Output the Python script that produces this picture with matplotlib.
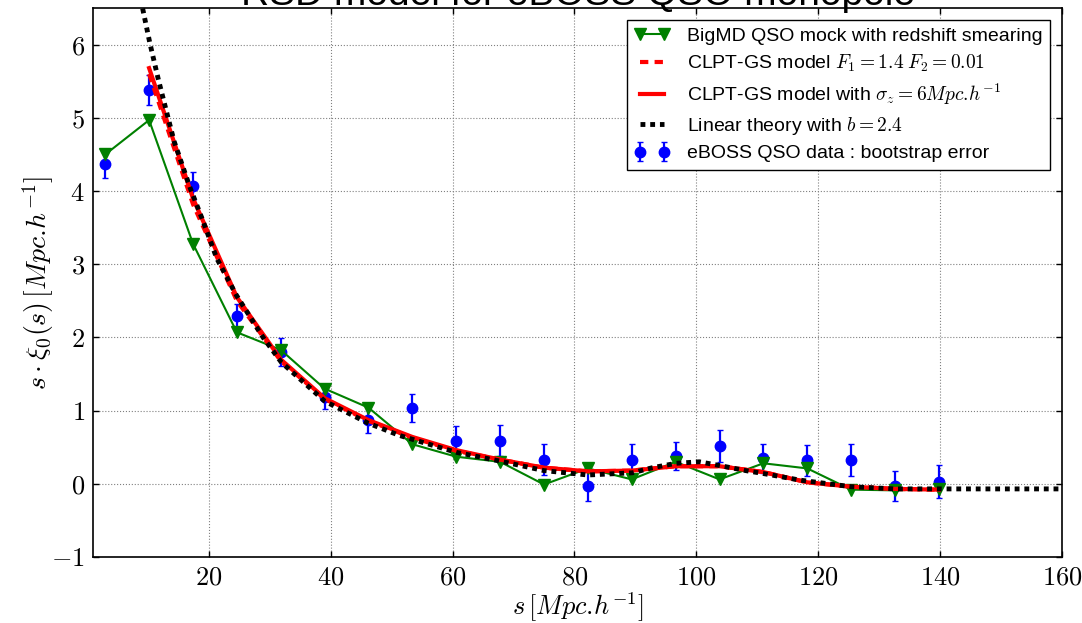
import numpy as np
import matplotlib
matplotlib.use('Agg')
import matplotlib.pyplot as plt

plt.rcParams['font.family'] = ['Liberation Sans', 'DejaVu Sans']
plt.rcParams['mathtext.fontset'] = 'cm'

# bin centres of the monopole measurement
s_bins = [3.0, 10.2, 17.4, 24.6, 31.8, 39.0, 46.2, 53.4, 60.6, 67.8,
          75.0, 82.2, 89.4, 96.6, 103.8, 111.0, 118.2, 125.4, 132.6, 139.8]

# eBOSS QSO data with bootstrap errors
xi_data = [4.37, 5.38, 4.07, 2.29, 1.80, 1.19, 0.87, 1.04, 0.58, 0.59,
           0.33, -0.03, 0.33, 0.38, 0.52, 0.35, 0.32, 0.32, -0.03, 0.03]
xi_err = [0.19, 0.20, 0.19, 0.16, 0.19, 0.17, 0.18, 0.19, 0.21, 0.21,
          0.21, 0.21, 0.22, 0.19, 0.22, 0.20, 0.21, 0.22, 0.21, 0.22]

# BigMD mock with redshift smearing
xi_mock = [4.50, 4.97, 3.28, 2.07, 1.83, 1.30, 1.04, 0.54, 0.37, 0.30,
           -0.01, 0.21, 0.06, 0.30, 0.06, 0.28, 0.21, -0.08, -0.09, -0.07]

# CLPT-GS models (from the second bin on)
s_model = s_bins[1:]
xi_clpt_f = [5.60, 3.82, 2.50, 1.68, 1.16, 0.86, 0.63, 0.45, 0.33, 0.22,
             0.17, 0.18, 0.24, 0.24, 0.16, 0.02, -0.04, -0.07, -0.08]
xi_clpt_sz = [5.68, 3.90, 2.55, 1.70, 1.17, 0.87, 0.64, 0.46, 0.33, 0.22,
              0.17, 0.18, 0.24, 0.24, 0.16, 0.02, -0.04, -0.07, -0.08]

# linear theory, b = 2.4
s_lin = [8.0, 9.1, 10.3, 11.7, 13.1, 14.3, 16.9, 19.0, 21.3, 24.5, 28.9,
         31.9, 39.0, 46.1, 51.3, 60.6, 67.8, 75.0, 82.2, 89.5, 92.8, 96.7,
         100.5, 103.8, 108.1, 111.0, 117.0, 125.4, 132.6, 139.8, 160.0]
xi_lin = [6.95, 6.51, 6.03, 5.53, 5.07, 4.68, 4.05, 3.60, 3.08, 2.58, 2.00,
          1.66, 1.13, 0.83, 0.66, 0.43, 0.31, 0.18, 0.12, 0.15, 0.22, 0.28,
          0.30, 0.25, 0.18, 0.14, 0.05, -0.04, -0.07, -0.07, -0.07]

xticks = [20, 40, 60, 80, 100, 120, 140, 160]
yticks = [-1, 0, 1, 2, 3, 4, 5, 6]

fig = plt.figure(figsize=(10.82, 6.23), dpi=100)
ax = fig.add_axes([0.086, 0.106, 0.8955, 0.881])

ax.errorbar(s_bins, xi_data, yerr=xi_err, fmt='o', color='blue', markersize=7.5,
            elinewidth=1.6, capsize=2.5, capthick=1, ecolor='blue',
            label='eBOSS QSO data : bootstrap error', zorder=2)
ax.plot(s_bins, xi_mock, color='green', marker='v', markersize=8.5, linewidth=1.5,
        label='BigMD QSO mock with redshift smearing', zorder=3)
ax.plot(s_model, xi_clpt_f, color='red', linestyle=(0, (2, 1.5)), linewidth=3,
        label=r'CLPT-GS model $F_1 = 1.4\;F_2 = 0.01$', zorder=4)
ax.plot(s_model, xi_clpt_sz, color='red', linewidth=3,
        label=r'CLPT-GS model with $\sigma_z = 6Mpc.\!h^{-1}$', zorder=5)
ax.plot(s_lin, xi_lin, color='black', linestyle=(0, (1, 1)), linewidth=3.5,
        label=r'Linear theory with $b = 2.4$', zorder=6)

ax.set_xlim(1, 160)
ax.set_ylim(-1, 6.5)
ax.set_xticks(xticks, [f'${t}$' for t in xticks], fontsize=19)
ax.set_yticks(yticks, [f'${t}$' for t in yticks], fontsize=19)
ax.tick_params(direction='in', top=True, right=True, length=4, width=1, pad=6)
ax.grid(True, color='0.5', linestyle=':', linewidth=0.8)
for sp in ax.spines.values():
    sp.set_linewidth(1.2)

ax.set_xlabel(r'$s\,[Mpc.\!h^{-1}]$', fontsize=19)
ax.xaxis.set_label_coords(0.5, -0.061)
ax.xaxis.label.set_va('top')
ax.set_ylabel(r'$s \cdot \xi_0(s)\,[Mpc.\!h^{-1}]$', fontsize=20)
ax.yaxis.set_label_coords(-0.038, 0.5)
ax.set_title('RSD model for eBOSS QSO monopole', fontsize=28, pad=2)

leg = ax.legend(loc='upper right', fontsize=14, numpoints=2, handlelength=1.8,
                handletextpad=0.9, fancybox=False, framealpha=1,
                edgecolor='black', borderaxespad=0.6, labelspacing=0.4)
leg.get_frame().set_linewidth(1)

fig.savefig('out.png', dpi=100)
